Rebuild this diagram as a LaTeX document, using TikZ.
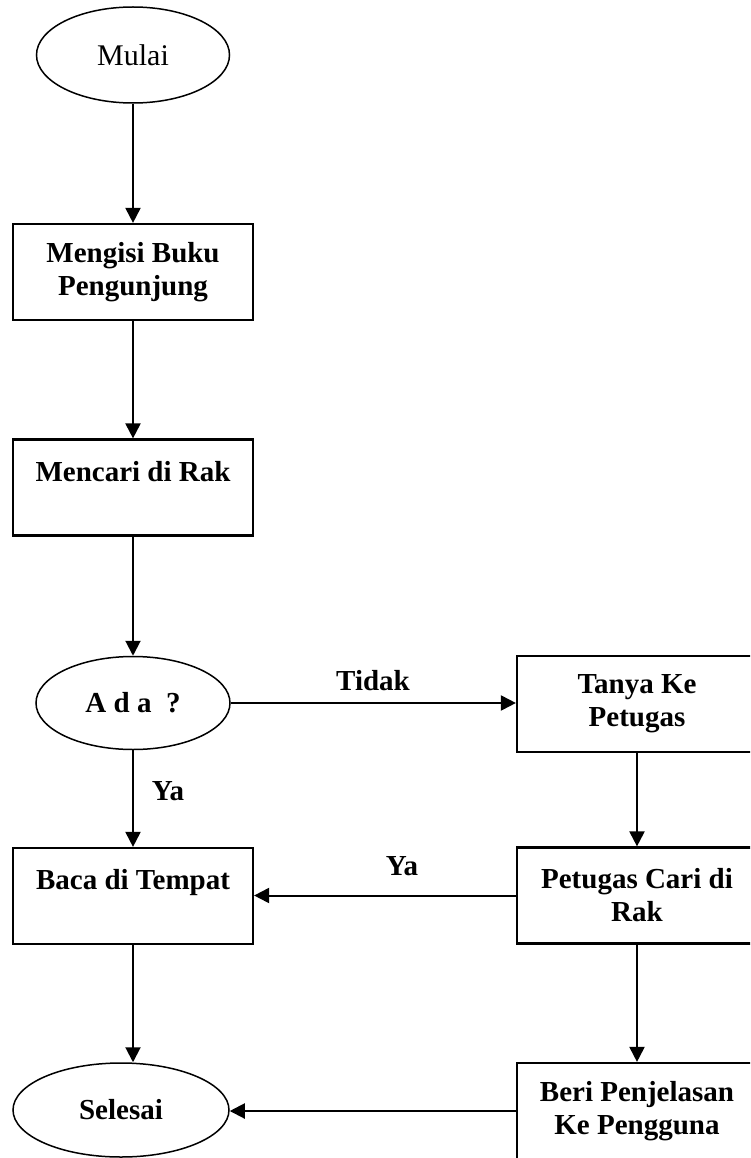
\documentclass[tikz,border=0pt]{standalone}
\usepackage{fontspec}
\setmainfont{Liberation Serif}
\usetikzlibrary{shapes.geometric,arrows.meta}
\begin{document}
\begin{tikzpicture}[x=1pt,y=-1pt,
  procbox/.style={draw, line width=2.2pt, minimum width=240pt, minimum height=96pt, inner sep=0pt, align=center, font=\fontsize{29}{33}\selectfont\bfseries},
  term/.style={draw, ellipse, line width=1.5pt, inner sep=0pt},
  flow/.style={line width=2pt, -{Triangle[length=15pt,width=15pt]}},
  lbl/.style={font=\fontsize{29}{33}\selectfont\bfseries, inner sep=0pt}]
\useasboundingbox (0,0) rectangle (750,1158);
\clip (0,0) rectangle (750,1158);
\node[term, minimum width=193pt, minimum height=96pt, font=\fontsize{30}{34}\selectfont] (mulai) at (133,55) {Mulai};
\node[procbox] (isi) at (133,272) {Mengisi Buku\\Pengunjung};
\node[procbox] (cari) at (133,487.5) {Mencari di Rak\\~};
\node[term, minimum width=194pt, minimum height=93pt, font=\fontsize{29}{33}\selectfont\bfseries] (ada) at (133,703) {A d a\enspace ?};
\node[procbox] (tanya) at (637,704) {Tanya Ke\\Petugas};
\node[procbox] (baca) at (133,896) {Baca di Tempat\\~};
\node[procbox] (petugas) at (637,895.5) {Petugas Cari di\\Rak};
\node[term, minimum width=216pt, minimum height=94pt, font=\fontsize{29}{33}\selectfont\bfseries] (selesai) at (121,1110) {Selesai};
\node[procbox] (beri) at (637,1111) {Beri Penjelasan\\Ke Pengguna};
\draw[flow] (mulai.south) -- (isi.north);
\draw[flow] (isi.south) -- (cari.north);
\draw[flow] (cari.south) -- (ada.north);
\draw[flow] (ada.east) -- (tanya.west |- ada.east);
\draw[flow] (tanya.south) -- (petugas.north);
\draw[flow] (ada.south) -- (baca.north);
\draw[flow] (petugas.west) -- (baca.east |- petugas.west);
\draw[flow] (petugas.south) -- (beri.north);
\draw[flow] (baca.south) -- (baca.south |- selesai.north);
\draw[flow] (beri.west) -- (selesai.east |- beri.west);
\node[lbl] (tidak) at (373,681) {Tidak};
\node[lbl] (ya1) at (168,791) {Ya};
\node[lbl] (ya2) at (402,866) {Ya};
\end{tikzpicture}
\end{document}
